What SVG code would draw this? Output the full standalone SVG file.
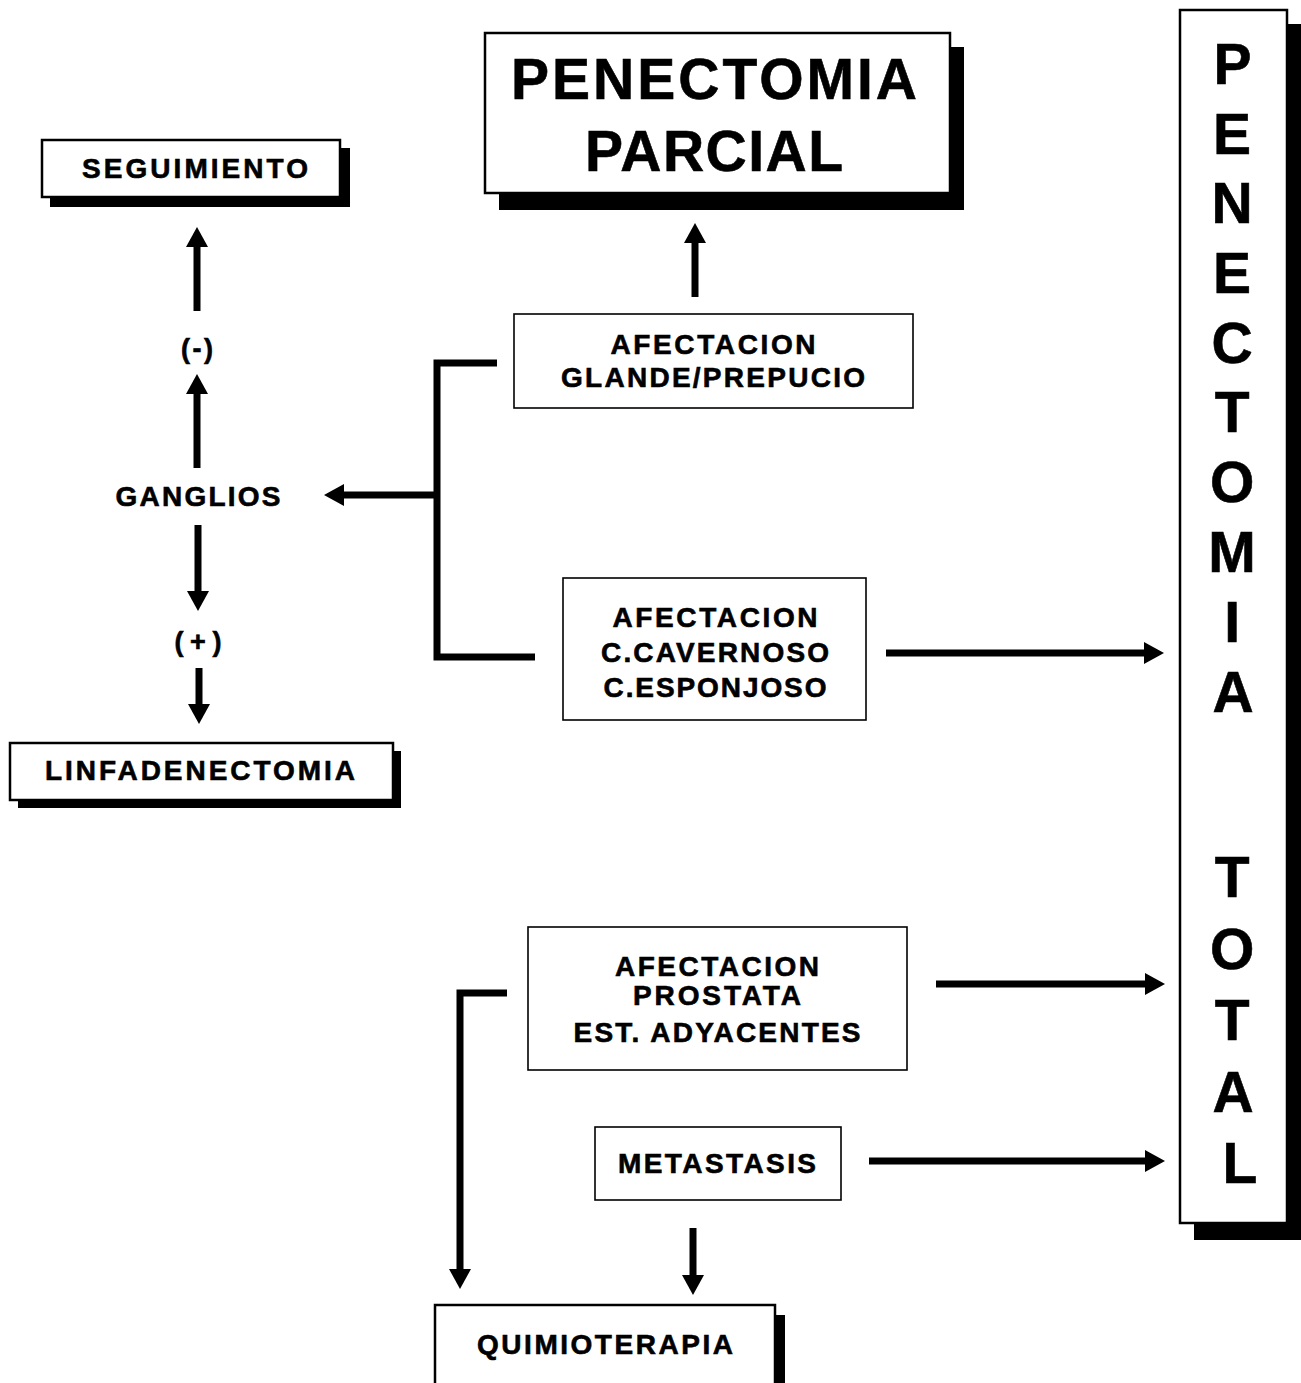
<svg xmlns="http://www.w3.org/2000/svg" width="1301" height="1383" viewBox="0 0 1301 1383">
<defs>
<style>
.bg{fill:#ffffff}
.box{fill:#ffffff;stroke:#000000;stroke-width:2.5}
.thin{fill:#ffffff;stroke:#000000;stroke-width:1.6}
.shadow{fill:#000000}
.t{font-family:"Liberation Sans",Arial,Helvetica,sans-serif;font-weight:bold;fill:#000000;stroke:#000000;stroke-width:0.6;text-anchor:middle}
.s26{font-size:28px}
.s24{font-size:27px}
.s53{font-size:57px}
.s56{font-size:57px}
.c{fill:none;stroke:#000000;stroke-width:7;stroke-linejoin:miter}
</style>
<marker id="ah" viewBox="0 -11 20 22" refX="1" refY="0" markerWidth="20" markerHeight="22" markerUnits="userSpaceOnUse" orient="auto">
<path d="M0,-11 L20,0 L0,11 Z" fill="#000000"/>
</marker>
</defs>
<rect class="bg" x="0" y="0" width="1301" height="1383"/>

<g id="seguimiento">
<rect class="shadow" x="50" y="148" width="300" height="59"/>
<rect class="box" x="42" y="140" width="298" height="57"/>
<text class="t s26" x="195" y="178" textLength="226" lengthAdjust="spacing">SEGUIMIENTO</text>
</g>

<g id="penectomia-parcial">
<rect class="shadow" x="499" y="47" width="465" height="163"/>
<rect class="box" x="485" y="33" width="465" height="160"/>
<text class="t s53" x="714" y="99" textLength="406" lengthAdjust="spacing">PENECTOMIA</text>
<text class="t s53" x="714" y="171" textLength="258" lengthAdjust="spacing">PARCIAL</text>
</g>

<g id="penectomia-total">
<rect class="shadow" x="1194" y="24" width="107" height="1216"/>
<rect class="box" x="1180" y="10" width="107" height="1213"/>
<text class="t s56">
<tspan x="1240" y="84">P</tspan>
<tspan x="1240" y="154">E</tspan>
<tspan x="1240" y="223">N</tspan>
<tspan x="1240" y="293">E</tspan>
<tspan x="1240" y="363">C</tspan>
<tspan x="1240" y="432">T</tspan>
<tspan x="1240" y="502">O</tspan>
<tspan x="1240" y="572">M</tspan>
<tspan x="1240" y="642">I</tspan>
<tspan x="1240" y="712">A</tspan>
<tspan x="1240" y="897">T</tspan>
<tspan x="1240" y="969">O</tspan>
<tspan x="1240" y="1040">T</tspan>
<tspan x="1240" y="1112">A</tspan>
<tspan x="1240" y="1183">L</tspan>
</text>
</g>

<g id="afectacion-glande">
<rect class="thin" x="514" y="314" width="399" height="94"/>
<text class="t s26" x="713" y="354" textLength="205" lengthAdjust="spacing">AFECTACION</text>
<text class="t s26" x="713" y="387" textLength="304" lengthAdjust="spacing">GLANDE/PREPUCIO</text>
</g>

<g id="afectacion-cavernoso">
<rect class="thin" x="563" y="578" width="303" height="142"/>
<text class="t s26" x="715" y="627" textLength="205" lengthAdjust="spacing">AFECTACION</text>
<text class="t s26" x="715" y="662" textLength="228" lengthAdjust="spacing">C.CAVERNOSO</text>
<text class="t s26" x="715" y="697" textLength="223" lengthAdjust="spacing">C.ESPONJOSO</text>
</g>

<g id="afectacion-prostata">
<rect class="thin" x="528" y="927" width="379" height="143"/>
<text class="t s26" x="717" y="976" textLength="204" lengthAdjust="spacing">AFECTACION</text>
<text class="t s26" x="717" y="1005" textLength="168" lengthAdjust="spacing">PROSTATA</text>
<text class="t s26" x="717" y="1042" textLength="287" lengthAdjust="spacing">EST. ADYACENTES</text>
</g>

<g id="metastasis">
<rect class="thin" x="595" y="1127" width="246" height="73"/>
<text class="t s26" x="717" y="1173" textLength="198" lengthAdjust="spacing">METASTASIS</text>
</g>

<g id="quimioterapia">
<rect class="shadow" x="445" y="1315" width="340" height="80"/>
<rect class="box" x="435" y="1305" width="340" height="80"/>
<text class="t s26" x="605" y="1354" textLength="256" lengthAdjust="spacing">QUIMIOTERAPIA</text>
</g>

<g id="linfadenectomia">
<rect class="shadow" x="18" y="751" width="383" height="57"/>
<rect class="box" x="10" y="743" width="383" height="57"/>
<text class="t s26" x="200" y="780" textLength="310" lengthAdjust="spacing">LINFADENECTOMIA</text>
</g>

<g id="ganglios">
<text class="t s26" x="198" y="506" textLength="165" lengthAdjust="spacing">GANGLIOS</text>
</g>

<g id="negativo">
<text class="t s24" x="197" y="358" textLength="32" lengthAdjust="spacing">(-)</text>
</g>

<g id="positivo">
<text class="t s24" x="198" y="651" textLength="47" lengthAdjust="spacing">(+)</text>
</g>

<g id="connectors">
<line class="c" x1="197" y1="311" x2="197" y2="246" marker-end="url(#ah)"/>
<line class="c" x1="197" y1="468" x2="197" y2="393" marker-end="url(#ah)"/>
<line class="c" x1="198" y1="525" x2="198" y2="592" marker-end="url(#ah)"/>
<line class="c" x1="199" y1="668" x2="199" y2="705" marker-end="url(#ah)"/>
<line class="c" x1="695" y1="297" x2="695" y2="242" marker-end="url(#ah)"/>
<polyline class="c" points="497,363 437,363 437,657 535,657"/>
<line class="c" x1="437" y1="495" x2="343" y2="495" marker-end="url(#ah)"/>
<line class="c" x1="886" y1="653" x2="1145" y2="653" marker-end="url(#ah)"/>
<line class="c" x1="936" y1="984" x2="1146" y2="984" marker-end="url(#ah)"/>
<line class="c" x1="869" y1="1161" x2="1146" y2="1161" marker-end="url(#ah)"/>
<polyline class="c" points="507,993 460,993 460,1270" marker-end="url(#ah)"/>
<line class="c" x1="693" y1="1228" x2="693" y2="1276" marker-end="url(#ah)"/>
</g>
</svg>
